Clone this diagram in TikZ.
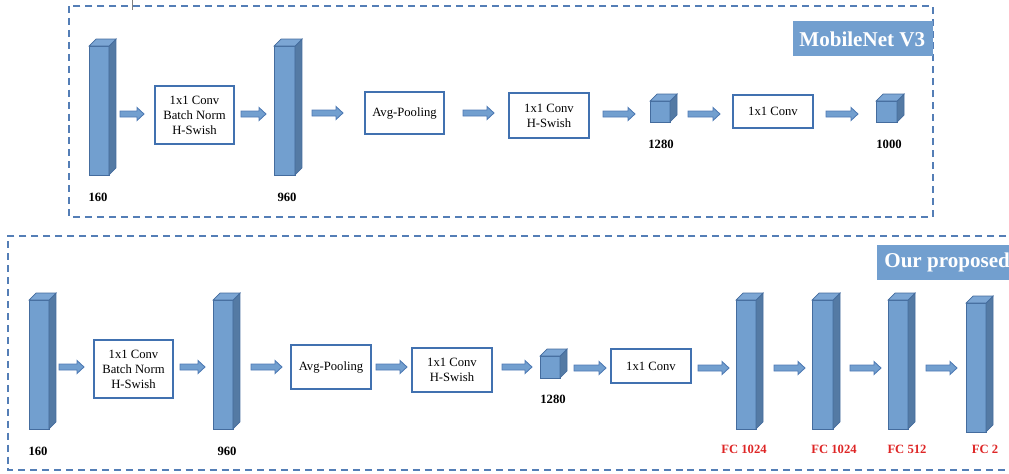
\documentclass[tikz,border=0pt]{standalone}
\usepackage{fontspec}
\setmainfont{Liberation Serif}
\usepackage{tikz}
\usetikzlibrary{calc}

\definecolor{barfront}{RGB}{114,159,207}
\definecolor{barside}{RGB}{84,122,164}
\definecolor{bartop}{RGB}{124,166,212}
\definecolor{baredge}{RGB}{68,108,158}
\definecolor{boxedge}{RGB}{65,113,176}
\definecolor{dashcol}{RGB}{84,126,182}
\definecolor{arrowedge}{RGB}{78,122,180}
\definecolor{fcred}{RGB}{222,38,38}

\tikzset{
  face/.style={draw=baredge, fill=barfront, line width=0.4pt, inner sep=0pt, outer sep=0pt},
  side/.style={draw=baredge, fill=barside, line width=0.4pt},
  topface/.style={draw=baredge, fill=bartop, line width=0.4pt},
  opbox/.style={draw=boxedge, line width=0.85pt, fill=white, inner sep=0pt, align=center,
    font=\fontsize{7.2}{8.6}\selectfont},
  num/.style={font=\fontsize{7.2}{8.6}\selectfont\bfseries},
  fcnum/.style={num, text=fcred},
  flowarr/.style={draw=arrowedge, fill=barfront, line width=0.5pt},
  frame/.style={draw=dashcol, line width=0.9pt, dash pattern=on 4pt off 2.8pt},
  title/.style={text=white, font=\fontsize{12}{14}\selectfont\bfseries, anchor=west, inner sep=0pt}
}

% prism: name, centre of front face, width, height (px)
\newcommand\prism[4]{%
  \node[face, minimum width=#3*0.2mm, minimum height=#4*0.2mm] (#1) at (#2) {};
  \filldraw[side] (#1.north east) -- ++(7,-7) -- ($(#1.south east)+(7,-7)$) -- (#1.south east) -- cycle;
  \filldraw[topface] (#1.north west) -- ++(7,-7) -- ($(#1.north east)+(7,-7)$) -- (#1.north east) -- cycle;}

% block arrow: name, x start, x end, y
\newcommand\flow[4]{%
  \coordinate (#1s) at (#2,#4);
  \coordinate (#1e) at (#3,#4);
  \filldraw[flowarr] ($(#1s)+(0,3)$) -- ($(#1e)+(-7,3)$) -- ($(#1e)+(-7,6.5)$) -- (#1e)
    -- ($(#1e)+(-7,-6.5)$) -- ($(#1e)+(-7,-3)$) -- ($(#1s)+(0,-3)$) -- cycle;}

\begin{document}
\begin{tikzpicture}[x=0.02cm, y=-0.02cm]
\clip (0,0) rectangle (1009,474);

% MobileNet V3
\draw[frame] (69,6) rectangle (933,217);
\draw[gray, line width=0.5pt] (132,0) -- (132,10);
\fill[barfront] (793,21) rectangle (933,56);
\node[title] (mtitle) at (799,39) {MobileNet V3};

\prism{t1}{99,110.5}{20}{129}
\node[num] (t1l) at (98,197) {160};
\flow{ta1}{120}{144}{114}
\node[opbox, minimum width=79*0.2mm, minimum height=58*0.2mm] (tb1) at (194.5,115) {1x1 Conv\\Batch Norm\\H-Swish};
\flow{ta2}{241}{266}{114}
\prism{t2}{284.5,110.5}{21}{129}
\node[num] (t2l) at (287,197) {960};
\flow{ta3}{312}{343}{113}
\node[opbox, minimum width=79*0.2mm, minimum height=42*0.2mm] (tb2) at (404.5,113) {Avg-Pooling};
\flow{ta4}{463}{494}{113}
\node[opbox, minimum width=80*0.2mm, minimum height=45*0.2mm] (tb3) at (549,115.5) {1x1 Conv\\H-Swish};
\flow{ta5}{603}{635}{114}
\prism{tc1}{660,111.5}{20}{21}
\node[num] (tc1l) at (661,144) {1280};
\flow{ta6}{688}{720}{114}
\node[opbox, minimum width=80*0.2mm, minimum height=33*0.2mm] (tb4) at (773,111.5) {1x1 Conv};
\flow{ta7}{826}{858}{114}
\prism{tc2}{886.5,111.5}{21}{21}
\node[num] (tc2l) at (889,144) {1000};

% Our proposed
\draw[frame] (1030,236) -- (8,236) -- (8,470) -- (1030,470);
\fill[barfront] (877,245) rectangle (1015,280);
\node[title] (ptitle) at (884,262.5) {Our proposed};

\prism{b1}{39,364.5}{20}{129}
\node[num] (b1l) at (38,451) {160};
\flow{ba1}{59}{84}{367}
\node[opbox, minimum width=79*0.2mm, minimum height=58*0.2mm] (bb1) at (133.5,369) {1x1 Conv\\Batch Norm\\H-Swish};
\flow{ba2}{180}{205}{367}
\prism{b2}{223,364.5}{20}{129}
\node[num] (b2l) at (227,451) {960};
\flow{ba3}{251}{282}{367}
\node[opbox, minimum width=80*0.2mm, minimum height=44*0.2mm] (bb2) at (331,367) {Avg-Pooling};
\flow{ba4}{376}{407}{367}
\node[opbox, minimum width=80*0.2mm, minimum height=44*0.2mm] (bb3) at (452,370) {1x1 Conv\\H-Swish};
\flow{ba5}{502}{532}{367}
\prism{bc1}{550,367}{20}{22}
\node[num] (bc1l) at (553,399) {1280};
\flow{ba6}{574}{606}{368}
\node[opbox, minimum width=80*0.2mm, minimum height=34*0.2mm] (bb4) at (651,366) {1x1 Conv};
\flow{ba7}{698}{729}{368}
\prism{f1}{746,364.5}{20}{129}
\node[fcnum] (f1l) at (744,449) {FC 1024};
\flow{ba8}{774}{805}{368}
\prism{f2}{822.5,364.5}{21}{129}
\node[fcnum] (f2l) at (834,449) {FC 1024};
\flow{ba9}{850}{881}{368}
\prism{f3}{898,364.5}{20}{129}
\node[fcnum] (f3l) at (907,449) {FC 512};
\flow{ba10}{926}{957}{368}
\prism{f4}{976,367.5}{20}{129}
\node[fcnum] (f4l) at (985,449) {FC 2};
\end{tikzpicture}
\end{document}
